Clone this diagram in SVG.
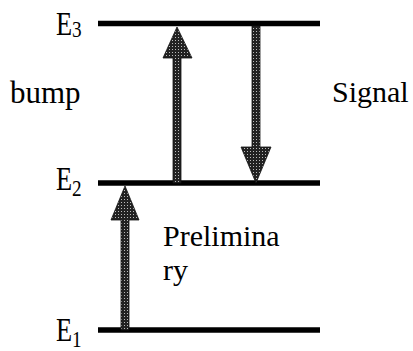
<svg xmlns="http://www.w3.org/2000/svg" width="413" height="351" viewBox="0 0 413 351">
  <defs>
    <pattern id="dots" width="3" height="3" patternUnits="userSpaceOnUse">
      <rect width="3" height="3" fill="#222"/>
      <rect x="1" y="1" width="1" height="1" fill="#bbb"/>
    </pattern>
  </defs>
  <style>
    .level { stroke: #000; stroke-width: 5.5; fill: none; }
    .arrow { fill: url(#dots); stroke: #111; stroke-width: 0.8; }
  </style>
  <g id="level-E3">
    <line class="level" x1="98" y1="23.5" x2="320" y2="23.5"/>
    <text style="font-family:'Times New Roman',serif" transform="translate(56,35) scale(0.8,1)"><tspan font-size="33">E</tspan><tspan font-size="24" dy="2">3</tspan></text>
  </g>
  <g id="level-E2">
    <line class="level" x1="98" y1="183" x2="320" y2="183"/>
    <text style="font-family:'Times New Roman',serif" transform="translate(56,190) scale(0.8,1)"><tspan font-size="33">E</tspan><tspan font-size="24" dy="6">2</tspan></text>
  </g>
  <g id="level-E1">
    <line class="level" x1="98" y1="330" x2="320" y2="330"/>
    <text style="font-family:'Times New Roman',serif" transform="translate(56,341) scale(0.8,1)"><tspan font-size="33">E</tspan><tspan font-size="24" dy="6">1</tspan></text>
  </g>
  <g id="connectors">
    <polygon id="pump-arrow" class="arrow" points="173,183 173,58 163,58 177,27 192,58 181,58 181,183"/>
    <polygon id="signal-arrow" class="arrow" points="252,26 252,147 241,147 256,183 271,147 260,147 260,26"/>
    <polygon id="preliminary-arrow" class="arrow" points="121,330 121,220 111,220 125,186 139,220 129,220 129,330"/>
  </g>
  <g id="label-bump"><text style="font-family:'Times New Roman',serif;font-size:31px" x="10" y="103">bump</text></g>
  <g id="label-signal"><text style="font-family:'Times New Roman',serif;font-size:30px" x="332" y="102">Signal</text></g>
  <g id="label-preliminary"><text style="font-family:'Times New Roman',serif;font-size:30px" x="163" y="246">Prelimina</text><text style="font-family:'Times New Roman',serif;font-size:30px" x="163" y="280">ry</text></g>
</svg>
